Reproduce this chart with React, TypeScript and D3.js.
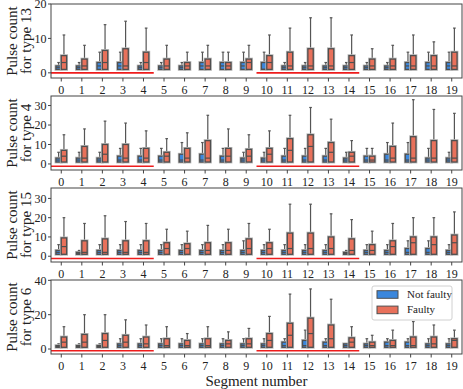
import React from 'react';
import { scaleBand, scaleLinear } from 'd3';

// segment numbers on the x axis
const segments = Array.from({ length: 20 }, (_, i) => i);

// each entry: [q1, median, q3, upper whisker]
const type13NotFaulty = [
  [1, 1.5, 2, 3], [1, 1.5, 2, 3], [1, 2, 3, 6], [1, 2, 3, 6], [1, 1.5, 2, 3],
  [1, 1.5, 2, 3], [1, 1.5, 2, 3], [1, 2, 3, 6], [1, 2, 3, 6], [1, 2, 3, 6],
  [1, 1, 3, 6], [1, 1.5, 2, 3], [1, 1.5, 2, 3], [1, 1.5, 2, 3], [1, 1.5, 2, 3],
  [1, 1.5, 2, 3], [1, 1.5, 2, 3], [1, 2, 3, 6], [1, 2, 3, 6], [1, 2, 3, 6],
];
const type13Faulty = [
  [1, 3, 5, 11], [1, 2, 4, 8], [1, 3, 6.5, 14], [1, 2, 7, 15], [1, 3, 6, 13],
  [1, 2, 4, 8], [1, 2, 3, 6], [1, 2, 4, 8], [1, 2, 3, 6], [1, 3, 4, 8],
  [1, 3, 5, 11], [1, 2, 6, 13], [1, 2, 7, 16], [1, 2, 7, 16], [1, 3, 5, 11],
  [1, 2, 4, 7], [1, 2, 4, 8], [1, 2, 5, 11], [1, 2, 5, 9], [1, 2, 6, 13],
];
const type4NotFaulty = [
  [1, 2, 3, 6], [1, 2, 3, 6], [1, 2, 3, 6], [1, 2, 4, 8], [1, 2, 4, 8],
  [1, 2, 4, 8], [1, 2, 5, 11], [1, 2, 5, 11], [1, 2, 4, 8], [1, 2, 3, 6],
  [1, 2, 3, 6], [1, 2, 4, 8], [1, 2, 4, 8], [1, 2, 4, 8], [1, 2, 3, 6],
  [1, 2, 4, 8], [1, 2, 5, 11], [1, 2, 5, 11], [1, 2, 3, 8], [1, 2, 3, 6],
];
const type4Faulty = [
  [1, 4, 7, 15], [1, 3, 9, 18], [1, 5, 10, 22], [1, 3, 10, 21], [1, 3, 8, 17],
  [1, 4, 6, 13], [1, 3, 8, 16], [1, 3, 12, 25], [1, 4, 8, 18], [1, 4, 7.5, 15],
  [1, 5, 8, 17], [1, 7, 13, 25], [1, 9, 15, 29], [1, 6, 11, 23], [1, 4, 6, 12],
  [1, 2, 4, 8], [1, 3, 9, 21], [1, 3, 14, 33], [1, 3, 12, 28], [1, 3, 12, 26],
];
const type15NotFaulty = [
  [1, 2, 3, 6], [1, 1.5, 2, 3], [1, 2, 3, 6], [1, 2, 3, 6], [1, 2, 3, 6],
  [1, 2, 3, 6], [1, 2, 3, 6], [1, 2, 3, 6], [1, 2, 3, 6], [1, 2, 3, 8],
  [1, 2, 3, 6], [1, 2, 3, 6], [1, 2, 3, 6], [1, 2, 3, 6], [1, 1.5, 2, 3],
  [1, 2, 3, 6], [1, 2, 3, 6], [1, 2, 4, 8], [1, 2, 4, 8], [1, 2, 3, 6],
];
const type15Faulty = [
  [1, 5, 9.5, 20], [1, 2, 8, 17], [1, 2, 9, 21], [1, 2, 8, 18], [1, 2, 8, 17],
  [1, 4, 7, 14], [1, 4, 6.5, 13], [1, 3, 7, 16], [1, 3, 7, 14], [1, 4, 9, 17],
  [1, 4, 7, 14], [1, 4, 12, 27], [1, 4, 12, 27], [1, 4, 10, 22], [1, 3, 9, 19],
  [1, 3, 6, 13], [1, 5, 8, 17], [1, 7, 10, 20], [1, 6, 10, 20], [1, 7, 11, 23],
];
const type6NotFaulty = [
  [1, 1.5, 2, 3], [1, 1.5, 2, 3], [1, 1.5, 2, 3], [1, 2, 3, 6], [1, 2, 3, 6],
  [1, 2, 3, 6], [1, 2, 3, 6], [1, 2, 3, 6], [1, 2, 3, 6], [1, 2, 3, 6],
  [1, 2, 3, 6], [1, 2, 4, 6], [1, 2, 5, 11], [1, 2, 4, 6], [1, 2, 3, 3],
  [1, 2, 3, 6], [1, 2, 4, 6], [1, 2, 4, 6], [1, 2, 3, 6], [1, 2, 3, 6],
];
const type6Faulty = [
  [1, 4, 7, 13], [1, 4, 8.5, 20], [1, 5, 9, 20], [1, 4, 8, 17], [1, 3, 7, 14],
  [1, 2, 6, 13], [1, 2, 5, 9], [1, 2, 6, 13], [1, 3, 5, 10], [1, 3, 6, 12],
  [1, 5, 9, 19], [1, 8, 15, 32], [1, 9, 18, 35], [1, 6, 14, 29], [1, 4, 6.5, 13],
  [1, 2, 4, 8], [1, 2, 5, 11], [1, 2, 7, 16], [1, 3, 7, 14], [1, 5, 6, 11],
];

const typeNames = ['13', '4', '15', '6'];
const yDomains = [[-1.5, 20], [-3.1, 34.9], [-3, 35.4], [-2.9, 40.2]];
const yTicks = [[0, 10, 20], [0, 10, 20, 30], [0, 10, 20, 30], [0, 20, 40]];
const redLineLevel = [0, -1.2, -1.2, -1];
const redRanges = [[0, 4], [10, 14]];
const groups = ['Not faulty', 'Faulty'];
const groupColors = ['#3b87dc', '#e8715b'];

const panelData = [
  [type13NotFaulty, type13Faulty],
  [type4NotFaulty, type4Faulty],
  [type15NotFaulty, type15Faulty],
  [type6NotFaulty, type6Faulty],
];

const font = '"Liberation Serif", "Times New Roman", serif';
const left = 51, right = 462, panelH = 74, panelStep = 92, firstTop = 4;

const Box = ({ cx, w, s, y, color }) => {
  const [q1, med, q3, hi] = s;
  const x0 = cx - w / 2;
  return (
    <g>
      <line x1={cx} x2={cx} y1={y(q3)} y2={y(hi)} stroke="#555" strokeWidth={1.2} />
      <line x1={cx - w / 4} x2={cx + w / 4} y1={y(hi)} y2={y(hi)} stroke="#555" strokeWidth={1.2} />
      <rect x={x0} y={y(q3)} width={w} height={y(q1) - y(q3)} fill="none" stroke="#b8b8b8" strokeWidth={2.8} />
      <rect x={x0} y={y(q3)} width={w} height={y(q1) - y(q3)} fill={color} stroke="#4f4f4f" strokeWidth={1.3} />
      <line x1={x0} x2={x0 + w} y1={y(med)} y2={y(med)} stroke="#4f4f4f" strokeWidth={1.2} />
    </g>
  );
};

const App = () => {
  const x = scaleBand().domain(segments.map(String)).range([left, right]).padding(0);
  const bw = x.bandwidth();
  const boxW = bw * 0.26;

  return (
    <svg width={463} height={389} style={{ display: 'block', position: 'absolute', left: 0, top: 0 }} fontFamily={font}>
      <rect width={463} height={389} fill="#fff" />
      {panelData.map((pd, p) => {
        const top = firstTop + p * panelStep;
        const bottom = top + panelH;
        const y = scaleLinear().domain(yDomains[p]).range([bottom, top]);
        const mid = (top + bottom) / 2;
        return (
          <g key={p}>
            {redRanges.map(([a, b], k) => (
              <line key={k} x1={x(String(a))} x2={x(String(b)) + bw} y1={y(redLineLevel[p])} y2={y(redLineLevel[p])}
                stroke="#ee1c1c" strokeWidth={1.6} />
            ))}
            {segments.map((seg, i) => {
              const cx = x(String(seg)) + bw / 2;
              return (
                <g key={i}>
                  {pd.map((series, g) => (
                    <Box key={g} cx={cx + (g === 0 ? -boxW / 2 : boxW / 2)} w={boxW} s={series[i]} y={y} color={groupColors[g]} />
                  ))}
                </g>
              );
            })}
            <rect x={left} y={top} width={right - left} height={panelH} fill="none" stroke="#444" strokeWidth={1} />
            {yTicks[p].map(t => (
              <g key={t}>
                <line x1={left - 3} x2={left} y1={y(t)} y2={y(t)} stroke="#444" />
                <text x={left - 4.5} y={y(t) + 4.2} textAnchor="end" fontSize={12} fill="#222">{t}</text>
              </g>
            ))}
            {segments.map(seg => {
              const cx = x(String(seg)) + bw / 2;
              return (
                <g key={seg}>
                  <line x1={cx} x2={cx} y1={bottom} y2={bottom + 3.5} stroke="#444" />
                  <text x={cx} y={bottom + 16} textAnchor="middle" fontSize={12} fill="#222">{seg}</text>
                </g>
              );
            })}
            <text transform={`translate(16.5,${mid}) rotate(-90)`} textAnchor="middle" fontSize={15} fill="#222">Pulse count</text>
            <text transform={`translate(31,${mid}) rotate(-90)`} textAnchor="middle" fontSize={15} fill="#222">{`for type ${typeNames[p]}`}</text>
          </g>
        );
      })}
      <text x={(left + right) / 2} y={386} textAnchor="middle" fontSize={15} fill="#222">Segment number</text>
      <g>
        <rect x={372} y={286} width={80} height={34} rx={2} fill="#fff" fillOpacity={0.85} stroke="#d0d0d0" />
        {groups.map((g, i) => (
          <g key={g}>
            <rect x={377} y={290.7 + i * 15.4} width={21} height={7.6} fill={groupColors[i]} stroke="#4f4f4f" strokeWidth={1} />
            <text x={407} y={298 + i * 15.4} fontSize={11} fill="#222">{g}</text>
          </g>
        ))}
      </g>
    </svg>
  );
};

export default App;
